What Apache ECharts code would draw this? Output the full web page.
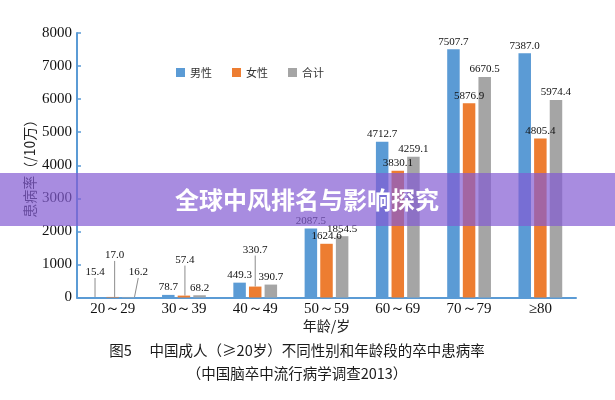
<!DOCTYPE html>
<html>
<head>
<meta charset="utf-8">
<script src="https://cdn.jsdelivr.net/npm/echarts@6/dist/echarts.min.js"></script>
<style>html,body{margin:0;padding:0;background:#fff;}#c{width:615px;height:400px;}</style>
</head>
<body>
<div id="c"></div>
<script>
const categories = ['20～29', '30～39', '40～49', '50～59', '60～69', '70～79', '≥80'];
const maleValues = [15.4, 78.7, 449.3, 2087.5, 4712.7, 7507.7, 7387.0];
const femaleValues = [17.0, 57.4, 330.7, 1624.6, 3830.1, 5876.9, 4805.4];
const totalValues = [16.2, 68.2, 390.7, 1854.5, 4259.1, 6670.5, 5974.4];
const seriesNames = ['男性', '女性', '合计'];
const yTicks = [0, 1000, 2000, 3000, 4000, 5000, 6000, 7000, 8000];

// label displacement (pixels) for crowded small bars, drawn with leader lines
const labelShift = [
  {0: [-2, -17]},
  {0: [2, -34], 1: [1, -28], 2: [0, -29]},
  {0: [10, -17]}
];

const colors = ['#5b9bd5', '#ed7d31', '#a5a5a5'];
const serif = '"Liberation Serif", "Times New Roman", serif';
const cjk = '"Noto Sans CJK SC", sans-serif';

function buildData(k, values) {
  return values.map((v, i) => {
    if (!labelShift[k][i]) return v;
    return {
      value: v,
      labelLine: { show: true, lineStyle: { color: '#8c8c8c', width: 1 } }
    };
  });
}

const valueList = [maleValues, femaleValues, totalValues];
const chart = echarts.init(document.getElementById('c'), null, { renderer: 'canvas' });
chart.setOption({
  animation: false,
  backgroundColor: '#ffffff',
  color: colors,
  legend: {
    data: seriesNames,
    left: 171,
    top: 62,
    itemWidth: 9,
    itemHeight: 9,
    itemGap: 20,
    icon: 'rect',
    textStyle: { fontFamily: cjk, fontSize: 11, color: '#333' }
  },
  grid: { left: 77, right: 39, top: 33, bottom: 102.5, containLabel: false },
  xAxis: {
    type: 'category',
    data: categories,
    name: '年龄/岁',
    nameLocation: 'middle',
    nameGap: 21,
    nameMoveOverlap: false,
    nameTextStyle: { fontFamily: cjk, fontSize: 14, color: '#222' },
    axisLine: { lineStyle: { color: '#5b9bd5', width: 2 } },
    axisTick: { show: false },
    axisLabel: { fontFamily: serif, fontSize: 15, color: '#111', margin: 4 }
  },
  yAxis: {
    type: 'value',
    min: yTicks[0],
    max: yTicks[yTicks.length - 1],
    interval: 1000,
    name: '患病率（/10万）',
    nameLocation: 'middle',
    nameGap: 40,
    nameMoveOverlap: false,
    nameTextStyle: { fontFamily: cjk, fontSize: 14, color: '#222' },
    axisLine: { show: true, lineStyle: { color: '#5b9bd5', width: 2 } },
    axisTick: { show: true, inside: true, length: 4, lineStyle: { color: '#5b9bd5', width: 1.5 } },
    splitLine: { show: false },
    axisLabel: { fontFamily: serif, fontSize: 15, color: '#111', margin: 5, formatter: v => String(v) }
  },
  series: seriesNames.map((name, k) => ({
    name: name,
    type: 'bar',
    barWidth: 12.5,
    barGap: '25%',
    data: buildData(k, valueList[k]),
    label: {
      show: true,
      position: 'top',
      distance: 2,
      fontFamily: serif,
      fontSize: 11,
      color: '#111',
      formatter: p => Number(p.value).toFixed(1)
    },
    labelLayout: function (params) {
      const s = labelShift[params.seriesIndex][params.dataIndex];
      return s ? { dx: s[0], dy: s[1] } : {};
    }
  })),
  graphic: [
    {
      type: 'text',
      x: 297,
      y: 350,
      style: {
        text: '图5　 中国成人（≥20岁）不同性别和年龄段的卒中患病率',
        fontFamily: cjk, fontSize: 14.5, fill: '#1a1a1a',
        align: 'center', verticalAlign: 'middle'
      }
    },
    {
      type: 'text',
      x: 297,
      y: 373,
      style: {
        text: '（中国脑卒中流行病学调查2013）',
        fontFamily: cjk, fontSize: 14.5, fill: '#1a1a1a',
        align: 'center', verticalAlign: 'middle'
      }
    },
    {
      type: 'rect',
      z: 100,
      shape: { x: 0, y: 173, width: 615, height: 53 },
      style: { fill: 'rgba(131,91,211,0.7)' }
    },
    {
      type: 'text',
      z: 101,
      x: 307,
      y: 200,
      style: {
        text: '全球中风排名与影响探究',
        fontFamily: cjk, fontSize: 24, fontWeight: 'bold', fill: '#ffffff',
        align: 'center', verticalAlign: 'middle',
        shadowColor: 'rgba(0,0,0,0.25)', shadowBlur: 2
      }
    }
  ]
});
</script>
</body>
</html>
